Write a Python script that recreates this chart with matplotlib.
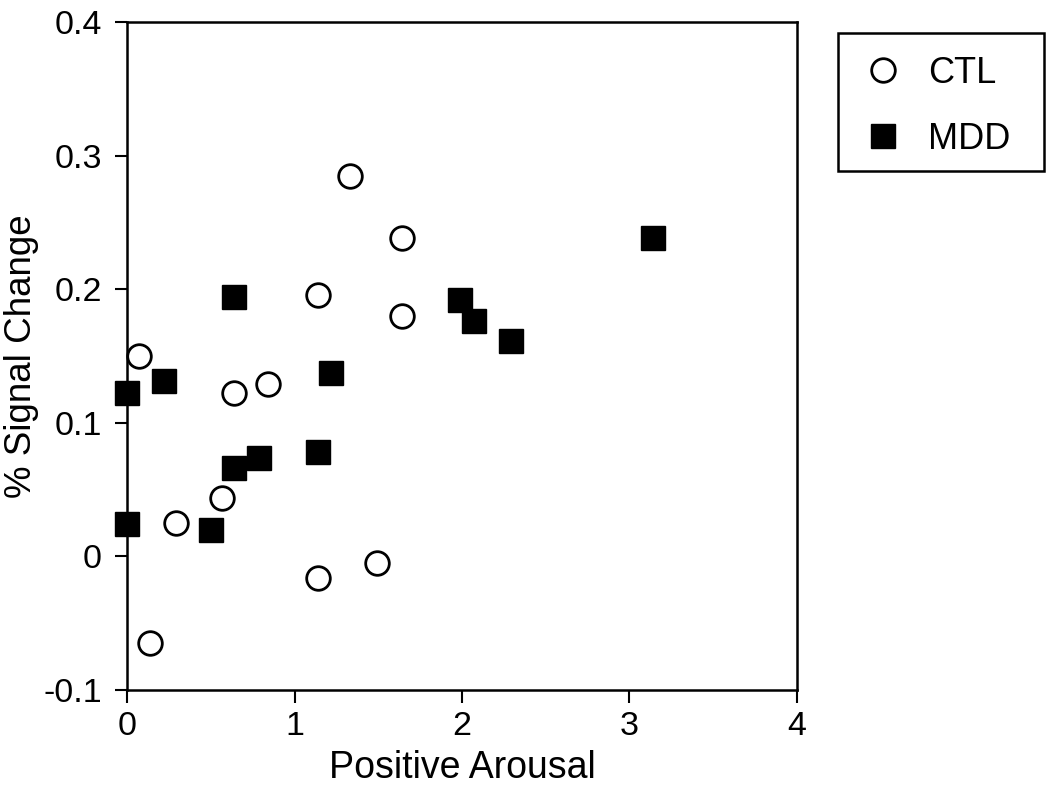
import matplotlib
matplotlib.use("Agg")
import matplotlib.pyplot as plt
from matplotlib.lines import Line2D
from matplotlib.patches import Rectangle

plt.rcParams['font.family'] = ['Liberation Sans', 'DejaVu Sans']

# CTL group (open circles)
ctl_x = [0.07, 0.14, 0.29, 0.57, 0.64, 0.84, 1.14, 1.14, 1.33, 1.49, 1.64, 1.64]
ctl_y = [0.150, -0.065, 0.025, 0.044, 0.122, 0.129, 0.196, -0.016, 0.285, -0.005, 0.238, 0.180]

# MDD group (filled squares)
mdd_x = [0.0, 0.0, 0.22, 0.50, 0.64, 0.64, 0.79, 1.14, 1.22, 1.99, 2.07, 2.29, 3.14]
mdd_y = [0.122, 0.024, 0.131, 0.020, 0.194, 0.066, 0.074, 0.078, 0.137, 0.192, 0.176, 0.161, 0.238]

x_ticks = [0, 1, 2, 3, 4]
y_ticks = [-0.1, 0, 0.1, 0.2, 0.3, 0.4]
y_labels = ['-0.1', '0', '0.1', '0.2', '0.3', '0.4']

W, H = 1050, 796
fig = plt.figure(figsize=(W / 100, H / 100), dpi=100)
ax = fig.add_axes([127 / W, 1 - 690 / H, (797 - 127) / W, (690 - 22) / H])

ax.plot(ctl_x, ctl_y, 'o', ms=17, mfc='white', mec='black', mew=2, clip_on=False)
ax.plot(mdd_x, mdd_y, 's', ms=17, mfc='black', mec='black', clip_on=False)

ax.set_xlim(0, 4)
ax.set_ylim(-0.1, 0.4)
ax.set_xticks(x_ticks)
ax.set_xticklabels([str(t) for t in x_ticks])
ax.set_yticks(y_ticks)
ax.set_yticklabels(y_labels)
ax.tick_params(direction='out', length=9, width=1.5, labelsize=24.5)
ax.tick_params(axis='x', pad=6)
ax.tick_params(axis='y', pad=9)
for s in ax.spines.values():
    s.set_linewidth(1.8)

ax.set_xlabel('Positive Arousal', fontsize=27, labelpad=6)
ax.set_ylabel('% Signal Change', fontsize=26.5, va='center')
ax.yaxis.set_label_coords(-0.157, 0.5)

# legend outside the axes, frame drawn separately
handles = [
    Line2D([], [], ls='none', marker='o', ms=17, mfc='white', mec='black', mew=2),
    Line2D([], [], ls='none', marker='s', ms=17, mfc='black', mec='black'),
]
fig.legend(handles, ['CTL', 'MDD'], loc='upper left',
           bbox_to_anchor=(840 / W, 1 - 38 / H),
           fontsize=26, frameon=False,
           borderpad=0.5, labelspacing=0.85, handlelength=1.4,
           handletextpad=0.55, borderaxespad=0)
fig.patches.append(Rectangle((838 / W, 1 - 171 / H), (1044 - 838) / W, (171 - 33) / H,
                             transform=fig.transFigure, fill=False,
                             edgecolor='black', linewidth=1.8))

fig.savefig('out.png', dpi=100)
